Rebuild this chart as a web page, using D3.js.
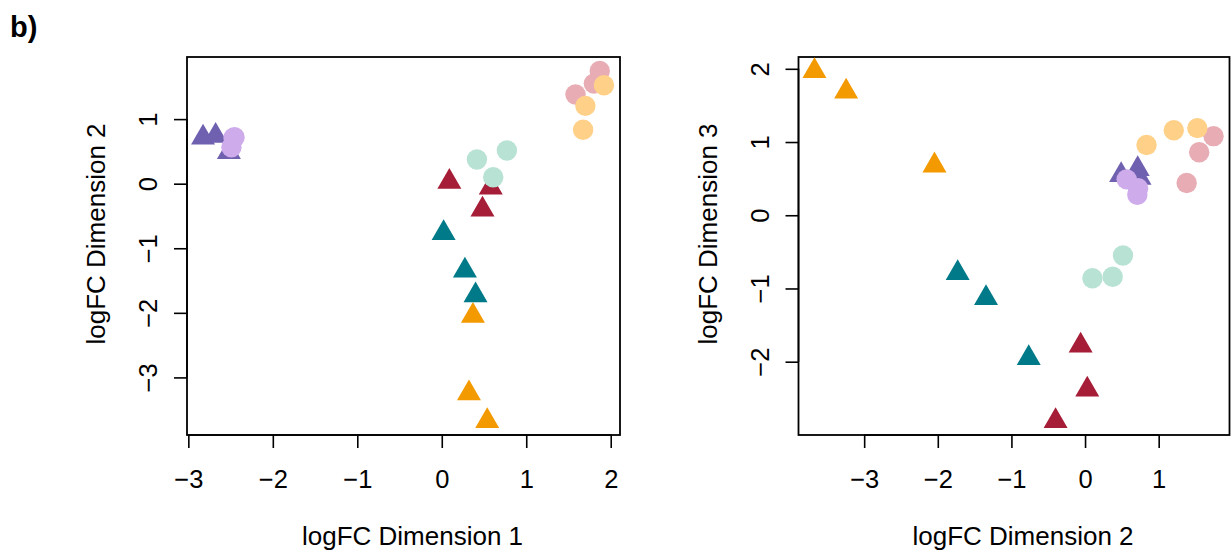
<!DOCTYPE html>
<html>
<head>
<meta charset="utf-8">
<script src="https://cdn.jsdelivr.net/npm/d3@7"></script>
<style>
  html, body { margin: 0; padding: 0; background: #ffffff; }
  svg { display: block; }
  text { font-family: "Liberation Sans", Arial, Helvetica, sans-serif; fill: #000; }
</style>
</head>
<body>
<svg id="chart" width="1231" height="550"></svg>
<script>
// ---- data (one entry per sample, in plotting order) ----
const sampleGroup = [
  "T_orange","T_orange","T_orange",
  "T_teal","T_teal","T_teal",
  "T_red","T_red","T_red",
  "T_purple","T_purple","T_purple",
  "C_pink","C_pink","C_pink",
  "C_lightorange","C_lightorange","C_lightorange",
  "C_mint","C_mint","C_mint",
  "C_lilac","C_lilac","C_lilac"
];
const dim1 = [
  0.538, 0.322, 0.369,
  0.022, 0.274, 0.400,
  0.090, 0.580, 0.482,
  -2.826, -2.677, -2.520,
  1.870, 1.800, 1.583,
  1.920, 1.700, 1.673,
  0.609, 0.416, 0.771,
  -2.490, -2.453, -2.465
];
const dim2 = [
  -3.675, -3.245, -2.045,
  -0.765, -1.345, -1.730,
  0.030, -0.060, -0.400,
  0.715, 0.740, 0.490,
  1.745, 1.550, 1.380,
  1.525, 1.205, 0.835,
  0.100, 0.375, 0.515,
  0.565, 0.720, 0.710
];
const dim3 = [
  1.97, 1.69, 0.68,
  -1.95, -1.13, -0.79,
  -2.38, -1.78, -2.81,
  0.63, 0.51, 0.55,
  1.08, 0.86, 0.44,
  1.19, 1.16, 0.96,
  -0.86, -0.84, -0.55,
  0.49, 0.37, 0.28
];
const xTicks1 = [-3, -2, -1, 0, 1, 2];
const yTicks1 = [-3, -2, -1, 0, 1];
const xTicks2 = [-3, -2, -1, 0, 1];
const yTicks2 = [-2, -1, 0, 1, 2];
const panelLabel = "b)";
const axisTitles = ["logFC Dimension 1", "logFC Dimension 2", "logFC Dimension 3"];

// ---- styles ----
const groupColor = {
  T_orange: "#F39A00", T_teal: "#007A88", T_red: "#A51D36", T_purple: "#7060B0",
  C_pink: "#E8ADB4", C_lightorange: "#FFD087", C_mint: "#B7E2D4", C_lilac: "#CEABEA"
};

const svg = d3.select("#chart");
const samples = sampleGroup.map((g, i) => ({ g, d1: dim1[i], d2: dim2[i], d3: dim3[i] }));

function extRange(vals) {
  const [a, b] = d3.extent(vals);
  const pad = (b - a) * 0.04;
  return [a - pad, b + pad];
}

const TICK_FS = 25.5, TITLE_FS = 26;

function panel(opts) {
  const { left, right, top, bottom, xKey, yKey, xTicks, yTicks, xTitle, yTitle } = opts;
  const x = d3.scaleLinear().domain(extRange(samples.map(d => d[xKey]))).range([left, right]);
  const y = d3.scaleLinear().domain(extRange(samples.map(d => d[yKey]))).range([bottom, top]);
  const g = svg.append("g");

  // x axis
  const xa = g.append("g").attr("transform", `translate(0,${bottom})`)
    .call(d3.axisBottom(x).tickValues(xTicks).tickSize(13).tickPadding(4).tickSizeOuter(0));
  xa.select(".domain").attr("d", `M${x(xTicks[0])},0H${x(xTicks[xTicks.length-1])}`)
    .attr("stroke", "#000").attr("stroke-width", 1.6);
  xa.selectAll(".tick line").attr("stroke", "#000").attr("stroke-width", 1.6);
  xa.selectAll(".tick text").remove();
  xa.selectAll(".tick").append("text")
    .attr("x", 0).attr("y", 53).attr("text-anchor", "middle")
    .attr("font-size", TICK_FS).attr("fill", "#000")
    .text(d => d3.format("")(d));

  // y axis
  const ya = g.append("g").attr("transform", `translate(${left},0)`)
    .call(d3.axisLeft(y).tickValues(yTicks).tickSize(13).tickSizeOuter(0));
  ya.select(".domain").attr("d", `M0,${y(yTicks[0])}V${y(yTicks[yTicks.length-1])}`)
    .attr("stroke", "#000").attr("stroke-width", 1.6);
  ya.selectAll(".tick line").attr("stroke", "#000").attr("stroke-width", 1.6);
  ya.selectAll(".tick text").remove();
  ya.selectAll(".tick").append("text")
    .attr("transform", "translate(-30,0) rotate(-90)")
    .attr("text-anchor", "middle")
    .attr("font-size", TICK_FS).attr("fill", "#000")
    .text(d => d3.format("")(d));

  // box
  g.append("rect").attr("x", left).attr("y", top)
    .attr("width", right - left).attr("height", bottom - top)
    .attr("fill", "none").attr("stroke", "#000").attr("stroke-width", 1.8);

  // titles
  g.append("text").attr("x", (left + right) / 2 + 9).attr("y", bottom + 110)
    .attr("text-anchor", "middle").attr("font-size", TITLE_FS).text(xTitle);
  g.append("text")
    .attr("transform", `translate(${left - 82},${(top + bottom) / 2 - 12}) rotate(-90)`)
    .attr("text-anchor", "middle").attr("font-size", TITLE_FS).text(yTitle);

  // points
  const R0 = 8.9;
  const triPath = (cx, cy) => {
    const r = 1.555 * R0, xc = 1.347 * R0, yc = 0.778 * R0;
    return `M${cx},${cy - r}L${cx + xc},${cy + yc}L${cx - xc},${cy + yc}Z`;
  };
  samples.forEach(d => {
    const cx = x(d[xKey]), cy = y(d[yKey]);
    if (d.g.startsWith("T")) {
      g.append("path").attr("d", triPath(cx, cy)).attr("fill", groupColor[d.g]);
    } else {
      g.append("circle").attr("cx", cx).attr("cy", cy).attr("r", 10.2).attr("fill", groupColor[d.g]);
    }
  });
}

panel({ left: 187, right: 620, top: 57, bottom: 435, xKey: "d1", yKey: "d2",
        xTicks: xTicks1, yTicks: yTicks1, xTitle: axisTitles[0], yTitle: axisTitles[1] });
panel({ left: 798.5, right: 1229.5, top: 57, bottom: 435, xKey: "d2", yKey: "d3",
        xTicks: xTicks2, yTicks: yTicks2, xTitle: axisTitles[1], yTitle: axisTitles[2] });

svg.append("text").attr("x", 10).attr("y", 37)
  .attr("font-size", 29).attr("font-weight", "bold").text(panelLabel);
</script>
</body>
</html>
